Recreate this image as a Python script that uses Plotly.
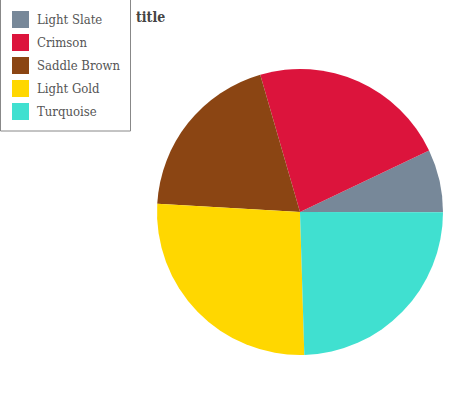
import plotly.graph_objects as go

labels = ["Light Slate", "Crimson", "Saddle Brown", "Light Gold", "Turquoise"]
values = [7.1, 22.4, 19.6, 26.4, 24.5]
colors = ["#778899", "#DC143C", "#8B4513", "#FFD700", "#40E0D0"]

W, H = 475, 400
FONT = "DejaVu Serif Condensed, DejaVu Serif, serif"

fig = go.Figure(go.Pie(
    labels=labels, values=values, sort=False, direction="counterclockwise",
    rotation=64.5, marker=dict(colors=colors, line=dict(width=0)),
    textinfo="none", hoverinfo="label+value", showlegend=False,
    domain=dict(x=[(300 - 143) / W, (300 + 143) / W],
                y=[(188 - 143) / H, (188 + 143) / H]),
))

def px(x):
    return x / W

def py(y):
    return 1 - y / H

shapes = [dict(type="rect", xref="paper", yref="paper",
               x0=px(0.5), x1=px(130.5), y0=py(-2), y1=py(131),
               line=dict(color="#888888", width=1), fillcolor="white", layer="above")]
annotations = []
for i, (lab, col) in enumerate(zip(labels, colors)):
    top = 11 + 23 * i
    shapes.append(dict(type="rect", xref="paper", yref="paper",
                       x0=px(12), x1=px(29), y0=py(top), y1=py(top + 17),
                       line=dict(width=0), fillcolor=col, layer="above"))
    annotations.append(dict(text=lab, xref="paper", yref="paper", x=px(35), y=py(top + 8.5),
                            xanchor="left", yanchor="middle", showarrow=False,
                            font=dict(family=FONT, size=13, color="#555555")))
annotations.append(dict(text="<b>title</b>", xref="paper", yref="paper", x=px(134), y=py(17),
                        xanchor="left", yanchor="middle", showarrow=False,
                        font=dict(family=FONT, size=14, color="#444444")))

fig.update_layout(
    width=W, height=H,
    margin=dict(l=0, r=0, t=0, b=0),
    paper_bgcolor="white", plot_bgcolor="white",
    showlegend=False,
    shapes=shapes, annotations=annotations,
)
fig.write_html("out.html", config={"displayModeBar": False},
               post_script="document.body.style.margin='0';")
